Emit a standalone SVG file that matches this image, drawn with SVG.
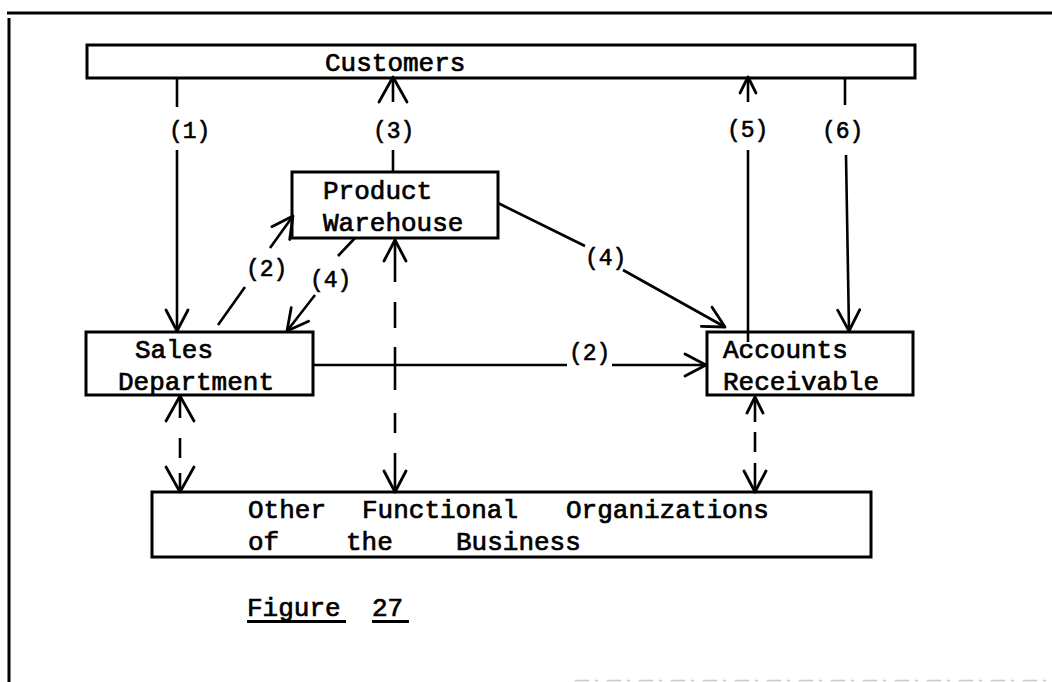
<svg xmlns="http://www.w3.org/2000/svg" width="1052" height="682" viewBox="0 0 1052 682">
  <defs>
    <style>
      .box { fill: none; stroke: #000; stroke-width: 3; }
      .frame { fill: none; stroke: #000; stroke-width: 3; }
      .line { fill: none; stroke: #000; stroke-width: 2.6; }
      .dash { fill: none; stroke: #000; stroke-width: 2.6; }
      .t { font-family: "Liberation Mono", "DejaVu Sans Mono", monospace; font-size: 26px; fill: #000; stroke: #000; stroke-width: 0.7; }
      .lbl { font-family: "Liberation Mono", "DejaVu Sans Mono", monospace; font-size: 23px; fill: #000; stroke: #000; stroke-width: 0.6; }
      .ah { fill: none; stroke: #000; stroke-width: 2.8; stroke-linecap: round; stroke-linejoin: round; }
    </style>
    <marker id="arrowL" viewBox="0 0 30 32" markerWidth="30" markerHeight="32" refX="27" refY="16" orient="auto-start-reverse" markerUnits="userSpaceOnUse">
      <path class="ah" d="M2,2 L27,16 L2,30"/>
    </marker>
    <marker id="arrow" viewBox="0 0 26 26" markerWidth="26" markerHeight="26" refX="23" refY="13" orient="auto-start-reverse" markerUnits="userSpaceOnUse">
      <path class="ah" d="M2,2 L23,13 L2,24"/>
    </marker>
    <marker id="arrowS" viewBox="0 0 22 22" markerWidth="22" markerHeight="22" refX="19" refY="11" orient="auto-start-reverse" markerUnits="userSpaceOnUse">
      <path class="ah" d="M3,3 L19,11 L3,19"/>
    </marker>
  </defs>

  <rect width="1052" height="682" fill="#fff"/>

  <!-- page frame -->
  <g id="frame">
    <path class="frame" d="M7,13 H1052"/>
    <path class="frame" d="M9,18 V682"/>
    <path d="M575,680.5 H1052" fill="none" stroke="#c8c8c8" stroke-width="1.5" stroke-dasharray="14 6 3 9"/>
  </g>

  <!-- connectors -->
  <g id="connectors">
    <!-- (1) Customers to Sales Department -->
    <path class="line" d="M177,78 V107 M177,150 V331" marker-end="url(#arrow)"/>
    <!-- (3) Product Warehouse to Customers -->
    <path class="line" d="M393,172 V150 M393,102 V77" marker-end="url(#arrowL)"/>
    <!-- (5) Accounts Receivable to Customers -->
    <path class="line" d="M748,342 V150 M748,102 V77" marker-end="url(#arrowS)"/>
    <!-- (6) Customers to Accounts Receivable -->
    <path class="line" d="M845,78 V105 M846,155 L849,331" marker-end="url(#arrow)"/>
    <!-- (2) Sales Department to Product Warehouse -->
    <path class="line" d="M218,325 L245,287 M270,248 L293,216" marker-end="url(#arrow)"/>
    <!-- (4) Product Warehouse to Sales Department -->
    <path class="line" d="M355,238 L338,256 M315,295 L287,331" marker-end="url(#arrow)"/>
    <!-- (4) Product Warehouse to Accounts Receivable -->
    <path class="line" d="M498,203 L585,246 M623,270 L725,327" marker-end="url(#arrow)"/>
    <!-- (2) Sales Department to Accounts Receivable -->
    <path class="line" d="M313,365 H567 M612,365 H706" marker-end="url(#arrow)"/>
    <!-- dashed links to Other Functional Organizations -->
    <path class="dash" d="M180,396 V492" stroke-dasharray="22 20 20 15 19" marker-start="url(#arrowL)" marker-end="url(#arrowL)"/>
    <path class="dash" d="M395,240 V492" stroke-dasharray="42 20 26 19 43 23 20 20 39" marker-start="url(#arrow)" marker-end="url(#arrow)"/>
    <path class="dash" d="M755,397 V492" stroke-dasharray="25 10 20 11 29" marker-start="url(#arrowS)" marker-end="url(#arrow)"/>
  </g>

  <!-- connector labels -->
  <g id="labels">
    <text class="lbl" x="169" y="138">(1)</text>
    <text class="lbl" x="373" y="138">(3)</text>
    <text class="lbl" x="727" y="137">(5)</text>
    <text class="lbl" x="822" y="138">(6)</text>
    <text class="lbl" x="246" y="276">(2)</text>
    <text class="lbl" x="310" y="287">(4)</text>
    <text class="lbl" x="585" y="265">(4)</text>
    <text class="lbl" x="569" y="360">(2)</text>
  </g>

  <g id="customers">
    <rect class="box" x="87" y="45" width="828" height="33"/>
    <text class="t" x="325" y="71">Customers</text>
  </g>

  <g id="product-warehouse">
    <rect class="box" x="292" y="172" width="206" height="66"/>
    <text class="t" x="323" y="199">Product</text>
    <text class="t" x="323" y="231">Warehouse</text>
  </g>

  <g id="sales-department">
    <rect class="box" x="86" y="332" width="227" height="63"/>
    <text class="t" x="135" y="358">Sales</text>
    <text class="t" x="118" y="390">Department</text>
  </g>

  <g id="accounts-receivable">
    <rect class="box" x="707" y="332" width="206" height="63"/>
    <text class="t" x="723" y="358">Accounts</text>
    <text class="t" x="723" y="390">Receivable</text>
  </g>

  <g id="other-organizations">
    <rect class="box" x="152" y="492" width="719" height="65"/>
    <text class="t" x="248" y="518">Other</text>
    <text class="t" x="362" y="518">Functional</text>
    <text class="t" x="566" y="518">Organizations</text>
    <text class="t" x="248" y="550">of</text>
    <text class="t" x="346" y="550">the</text>
    <text class="t" x="456" y="550">Business</text>
  </g>

  <g id="caption">
    <text class="t" x="247" y="616">Figure</text>
    <text class="t" x="372" y="616">27</text>
    <path d="M247,621.5 H346 M372,621.5 H409" fill="none" stroke="#000" stroke-width="3"/>
  </g>
</svg>
